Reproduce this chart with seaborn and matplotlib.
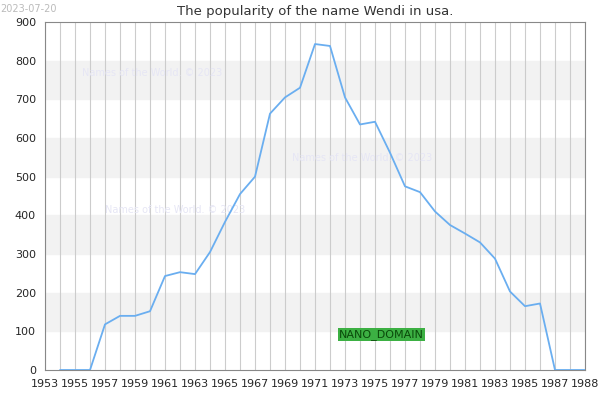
import matplotlib
matplotlib.use("Agg")
import matplotlib.pyplot as plt
import seaborn as sns
import pandas as pd

years = list(range(1954, 1990))
counts = [0, 0, 0, 118, 140, 140, 152, 243, 253, 248, 305, 383, 455, 500, 663, 705, 730,
          843, 838, 705, 635, 642, 562, 475, 460, 410, 375, 353, 330, 288, 203, 165, 172, 0, 0, 0]
xticks = list(range(1953, 1989, 2)) + [1989]
xlabels = [str(y) for y in range(1953, 1989, 2)] + ["1988"]
yticks = list(range(0, 901, 100))

sns.set_style("white")
fig = plt.figure(figsize=(6, 4), dpi=100)
ax = fig.add_axes([0.075, 0.075, 0.9, 0.87])
for lo in (100, 300, 500, 700):
    ax.axhspan(lo, lo + 100, color="#f2f2f2", zorder=0)
for y in range(1953, 1990):
    ax.axvline(y, color="#cccccc", lw=0.8, zorder=1)
df = pd.DataFrame({"year": years, "count": counts})
sns.lineplot(data=df, x="year", y="count", color="#6aaef0", lw=1.3, ax=ax, zorder=3)
ax.set_xlim(1953, 1989)
ax.set_ylim(0, 900)
ax.set_xticks(xticks)
ax.set_xticklabels(xlabels)
ax.set_yticks(yticks)
ax.tick_params(labelsize=8, length=3)
ax.set_xlabel("")
ax.set_ylabel("")
for s in ax.spines.values():
    s.set_color("#888888")
    s.set_linewidth(0.8)
ax.set_title("The popularity of the name Wendi in usa.", fontsize=9.5, color="#333333", pad=5)
fig.text(0.0, 0.99, "2023-07-20", fontsize=7, color="#bbbbbb", va="top")
for (x, y) in [(1955.5, 760), (1969.5, 540), (1957, 405)]:
    ax.text(x, y, "Names of the World. © 2023", fontsize=7, color="#e6e6f5", zorder=2)
ax.text(1972.6, 85, "NANO_DOMAIN", fontsize=8, color="#0a4a0a", zorder=4,
        bbox=dict(facecolor="#3cb043", edgecolor="none", pad=0.5))
fig.savefig("out.png", dpi=100)
